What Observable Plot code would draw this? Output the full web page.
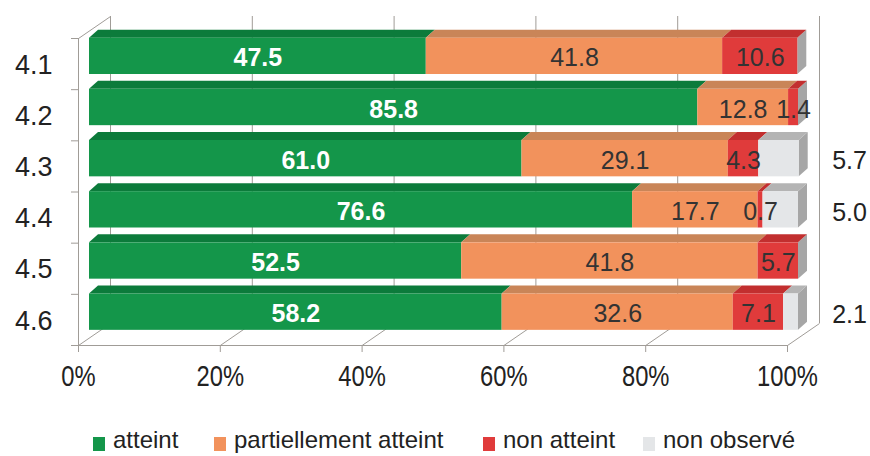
<!DOCTYPE html>
<html>
<head>
<meta charset="utf-8">
<script src="https://cdn.jsdelivr.net/npm/d3@7"></script>
<script src="https://cdn.jsdelivr.net/npm/@observablehq/plot@0.6"></script>
<style>
  body { margin: 0; background: #fff; }
  #chart { width: 870px; position: relative; font-family: "Liberation Sans", Arial, sans-serif; }
  .legend { position: relative; height: 46px; font-size: 24px; color: #222; }
  .legend .sw { position: absolute; top: 27px; width: 12px; height: 14px; }
  .legend .lab { position: absolute; top: 16px; line-height: 28px; white-space: nowrap; }
</style>
</head>
<body>
<div id="chart"></div>
<script>
// Objectives 4.1 – 4.6, share of observations (%) by result
const categories = ["4.1", "4.2", "4.3", "4.4", "4.5", "4.6"];
const series = ["atteint", "partiellement atteint", "non atteint", "non observé"];
const atteint = [47.5, 85.8, 61.0, 76.6, 52.5, 58.2];
const partiellement = [41.8, 12.8, 29.1, 17.7, 41.8, 32.6];
const nonAtteint = [10.6, 1.4, 4.3, 0.7, 5.7, 7.1];
const nonObserve = [0, 0, 5.7, 5.0, 0, 2.1];
const xTicks = [0, 20, 40, 60, 80, 100];

// front faces, top faces (darker), and the bar end face
const faceColors = ["#14964a", "#f2925c", "#e03b3b", "#e4e6e8"];
const topColors = ["#0c7b3b", "#c98558", "#c22f2f", "#b4b4b4"];
const sideColor = "#a6a6a6";
const gridColor = "#a09c97";
const legendLeft = [93, 214, 483, 643];

const W = 870, H = 410;
const margin = { left: 78, right: 83, top: 38, bottom: 65 };
const pxPerX = (W - margin.left - margin.right) / 100;
const pxPerY = (H - margin.top - margin.bottom) / categories.length;

// 3D offsets: bars sit inside the box, the back wall is deeper
const barShift = { dx: 11, dy: -8 };
const barDepth = { x: 9 / pxPerX, y: 8 / pxPerY };
const wall = { dx: 32, dy: -22 };
const barTop = 0.15, barBottom = 0.86;

const values = [atteint, partiellement, nonAtteint, nonObserve];
const segments = [];
categories.forEach((c, i) => {
  let acc = 0;
  values.forEach((arr, s) => {
    const v = arr[i];
    segments.push({ cat: c, i, s, v, x1: acc, x2: acc + v });
    acc += v;
  });
});
const drawn = segments.filter(d => d.v > 0);

// top face parallelograms
const tops = drawn.flatMap(d => [
  { key: d.cat + d.s, s: d.s, y: d.i + barTop, x1: d.x1, x2: d.x2 },
  { key: d.cat + d.s, s: d.s, y: d.i + barTop - barDepth.y, x1: d.x1 + barDepth.x, x2: d.x2 + barDepth.x }
]);
// end face of each bar
const sides = categories.flatMap((c, i) => {
  const end = d3.sum(values, arr => arr[i]);
  return [
    { cat: c, x: end, y1: i + barTop, y2: i + barBottom },
    { cat: c, x: end + barDepth.x, y1: i + barTop - barDepth.y, y2: i + barBottom - barDepth.y }
  ];
});

const labelMid = d => d.i + (barTop + barBottom) / 2;

const chart = Plot.plot({
  width: W,
  height: H,
  marginLeft: margin.left,
  marginRight: margin.right,
  marginTop: margin.top,
  marginBottom: margin.bottom,
  x: { domain: [0, 100] },
  y: { domain: [0, categories.length], reverse: true },
  color: { type: "identity" },
  style: { fontFamily: "\"Liberation Sans\", Arial, sans-serif", background: "transparent", color: "#222" },
  marks: [
    // back wall gridlines
    Plot.ruleX(xTicks, { x: d => d, y1: 0, y2: categories.length, stroke: gridColor, dx: wall.dx, dy: wall.dy }),
    // floor diagonals
    Plot.link(xTicks, {
      x1: d => d, x2: d => d + wall.dx / pxPerX,
      y1: categories.length, y2: categories.length + wall.dy / pxPerY,
      stroke: gridColor
    }),
    // left wall top edge
    Plot.link([0], { x1: 0, x2: wall.dx / pxPerX, y1: 0, y2: wall.dy / pxPerY, stroke: gridColor }),
    // left axis line and floor front edge
    Plot.ruleX([0], { y1: 0, y2: categories.length, stroke: gridColor }),
    Plot.ruleY([categories.length], { x1: 0, x2: 100, stroke: gridColor }),
    Plot.axisY({ ticks: d3.range(categories.length + 1), tickSize: 7, tickFormat: () => "", stroke: gridColor, label: null }),
    Plot.axisX({ ticks: xTicks, tickFormat: d => d + "%", tickSize: 7, tickPadding: 13, fontSize: 29, stroke: gridColor, label: null }),
    Plot.text(categories, { x: 0, y: (d, i) => i + 0.5, text: d => d, textAnchor: "end", dx: -26, dy: 1, fontSize: 27, fill: "#222", ariaLabel: "narrow-88" }),
    // bars
    Plot.areaY(sides, { x: "x", y1: "y1", y2: "y2", z: "cat", fill: sideColor, ...barShift }),
    Plot.areaX(tops, { y: "y", x1: "x1", x2: "x2", z: "key", fill: d => topColors[d.s], ...barShift }),
    Plot.rect(drawn, { x1: "x1", x2: "x2", y1: d => d.i + barTop, y2: d => d.i + barBottom, fill: d => faceColors[d.s], ...barShift }),
    // value labels on the bars
    Plot.text(drawn.filter(d => d.s === 0), {
      x: d => (d.x1 + d.x2) / 2, y: labelMid, text: d => d.v.toFixed(1),
      fill: "#ffffff", fontWeight: "bold", fontSize: 25,
      dx: barShift.dx, dy: barShift.dy + 2, ariaLabel: "narrow-90"
    }),
    Plot.text(drawn.filter(d => d.s === 1 || d.s === 2), {
      x: d => (d.x1 + d.x2) / 2, y: labelMid, text: d => d.v.toFixed(1),
      fill: "#333333", fontSize: 25,
      dx: barShift.dx, dy: barShift.dy + 2, ariaLabel: "narrow-92"
    }),
    // "non observé" values outside the box
    Plot.text(drawn.filter(d => d.s === 3), {
      x: 100, y: d => d.i + 0.5, text: d => d.v.toFixed(1),
      fill: "#222", fontSize: 25, dx: 62, dy: -5, ariaLabel: "narrow-92"
    })
  ]
});

// condense the chart lettering horizontally around each label's anchor
function condense(g, k) {
  g.querySelectorAll("text").forEach(t => {
    const tr = t.getAttribute("transform");
    if (tr) {
      t.setAttribute("transform", tr + ` scale(${k},1)`);
    } else {
      const x = +(t.getAttribute("x") || 0), y = +(t.getAttribute("y") || 0);
      t.setAttribute("transform", `translate(${x},${y}) scale(${k},1) translate(${-x},${-y})`);
    }
  });
}
chart.querySelectorAll('g[aria-label^="narrow-"]').forEach(g => {
  condense(g, +g.getAttribute("aria-label").slice(7) / 100);
});
chart.querySelectorAll('g[aria-label="x-axis tick label"]').forEach(g => condense(g, 0.82));

const root = document.getElementById("chart");
root.appendChild(chart);

const legend = document.createElement("div");
legend.className = "legend";
series.forEach((name, s) => {
  const sw = document.createElement("span");
  sw.className = "sw";
  sw.style.background = faceColors[s];
  sw.style.left = legendLeft[s] + "px";
  const label = document.createElement("span");
  label.className = "lab";
  label.style.left = (legendLeft[s] + 20) + "px";
  label.textContent = name;
  legend.append(sw, label);
});
root.appendChild(legend);
</script>
</body>
</html>
